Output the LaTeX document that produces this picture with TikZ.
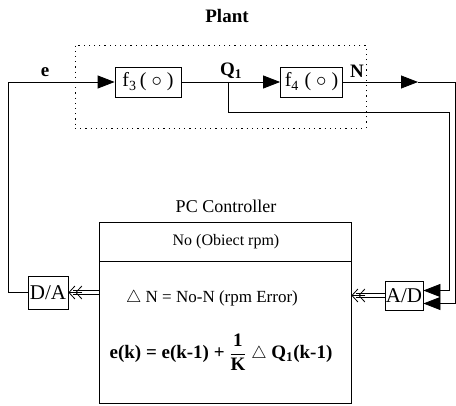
\documentclass[tikz,border=0pt]{standalone}
\usepackage{fontspec}
\setmainfont{Liberation Serif}
\usetikzlibrary{arrows.meta}
\begin{document}
\begin{tikzpicture}[x=1pt,y=-1pt,
  blk/.style={draw, line width=0.8pt, inner sep=0pt, font=\fontsize{20}{22}\selectfont},
  ln/.style={line width=0.8pt},
  tri/.style={-{Triangle[length=17pt,width=13pt]}},
  dtip/.style={line width=0.8pt, -{Straight Barb[length=6pt,width=13pt]Straight Barb[length=6pt,width=13pt]}},
  lbl/.style={font=\bfseries\fontsize{19}{21}\selectfont, inner sep=0pt},
  txt/.style={font=\fontsize{16}{19}\selectfont, inner sep=0pt}]
\useasboundingbox (0,0) rectangle (456,406);
\node[lbl] (plant) at (227,16) {Plant};
\node[draw, line width=0.8pt, dash pattern=on 1.2pt off 4pt, minimum width=291pt, minimum height=83pt] (pbox) at (220.5,86.5) {};
\node[blk, minimum width=66pt, minimum height=30pt] (f3) at (148,82) {f\textsubscript{3}\,( $\circ$ )};
\node[blk, minimum width=62pt, minimum height=30pt] (f4) at (311.5,82) {f\textsubscript{4}\;( $\circ$ )};
\node[lbl] (le) at (45,72) {e};
\node[lbl] (lq) at (231,71) {Q\textsubscript{1}};
\node[lbl] (ln) at (357,71) {N};
\node[blk, minimum width=40pt, minimum height=33pt, font=\fontsize{21}{23}\selectfont] (da) at (48,292.5) {D/A};
\node[blk, minimum width=38pt, minimum height=29pt, font=\fontsize{21}{23}\selectfont] (ad) at (404,295.5) {A/D};
\node[draw, line width=0.8pt, minimum width=252pt, minimum height=181pt] (ctrl) at (225,312.5) {};
\node[txt, font=\fontsize{18}{20}\selectfont] (pc) at (226,206) {PC Controller};
\coordinate (dl) at (99,261);
\draw[line width=0.8pt] (dl) -- (dl -| ctrl.east);
\node[txt] (no) at (226,242) {No (Obiect rpm)};
\node[txt, font=\fontsize{17}{20}\selectfont] (dn) at (212,298) {$\triangle$ N = No-N (rpm Error)};
\node[txt, font=\bfseries\fontsize{19}{21}\selectfont] (eq) at (221,352) {e(k) = e(k-1) + $\displaystyle\frac{\hbox{1}}{\hbox{K}}$ $\triangle$ Q\textsubscript{1}(k-1)};
% connectors
\coordinate (lt) at (8,82);
\draw[ln,tri] (da.west) -| (lt) -- (f3.west);
\draw[ln,tri] (f3.east) -- (f4.west);
\coordinate (q1) at (228,82);
\coordinate (qr) at (449,112);
\draw[ln,tri] (q1) |- (qr) |- ([yshift=5pt]ad.east);
\coordinate (narr) at (418,82);
\coordinate (nr) at (455,82);
\draw[ln,tri] (f4.east) -- (narr);
\draw[ln,tri] (narr) -- (nr) |- ([yshift=-8pt]ad.east);
% double arrows
\draw[ln] ([yshift=1.7pt]ctrl.west |- da.east) -- ([yshift=1.7pt,xshift=5pt]da.east);
\draw[ln] ([yshift=-1.7pt]ctrl.west |- da.east) -- ([yshift=-1.7pt,xshift=5pt]da.east);
\draw[dtip] ([xshift=14pt]da.east) -- (da.east);
\draw[ln] ([yshift=1.7pt]ad.west) -- ([yshift=1.7pt,xshift=5pt]ad.west -| ctrl.east);
\draw[ln] ([yshift=-1.7pt]ad.west) -- ([yshift=-1.7pt,xshift=5pt]ad.west -| ctrl.east);
\draw[dtip] ([xshift=14pt]ad.west -| ctrl.east) -- (ad.west -| ctrl.east);
\end{tikzpicture}
\end{document}
